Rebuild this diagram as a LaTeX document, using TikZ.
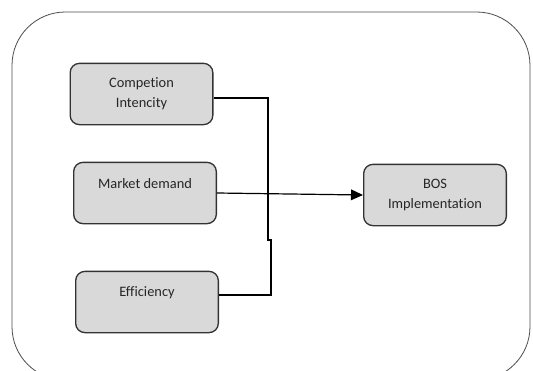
\documentclass[tikz,border=0pt]{standalone}
\usepackage{fontspec}
\setmainfont[Ligatures=NoCommon]{Carlito}
\usetikzlibrary{calc,shapes,arrows.meta}

\tikzset{
  factor/.style={draw=black!80, line width=1pt, fill=black!15, rounded corners=7pt,
    minimum width=107pt, minimum height=46pt, inner sep=0pt, align=center,
    font=\fontsize{10.8}{15}\selectfont, text=black!85},
  link/.style={line width=1.5pt, black},
}

\begin{document}
\begin{tikzpicture}[x=0.75pt,y=-0.75pt]
        \useasboundingbox (0,0) rectangle (533,371);
        \draw[black!70, line width=0.6pt, rounded corners=40pt] (12,12) rectangle (530,380);
        % factors
        \node[factor] (comp) at (141.5,94) {Competion\\Intencity};
        \node[factor] (market) at (145,193) {Market demand\\\mbox{}};
        \node[factor] (eff) at (147,302) {Efficiency\\\mbox{}};
        \node[factor] (bos) at (435,195) {BOS\\Implementation};
        % connectors
        \coordinate (jog) at (268,240);
        \draw[link] ([yshift=-3pt]comp.east) -| (jog) -- ++(3,0) |- ([yshift=5pt]eff.east);
        \draw[line width=0.9pt, -{Triangle[length=9pt,width=8pt]}] (market.east) -- (bos.west);
    \end{tikzpicture}
\end{document}
